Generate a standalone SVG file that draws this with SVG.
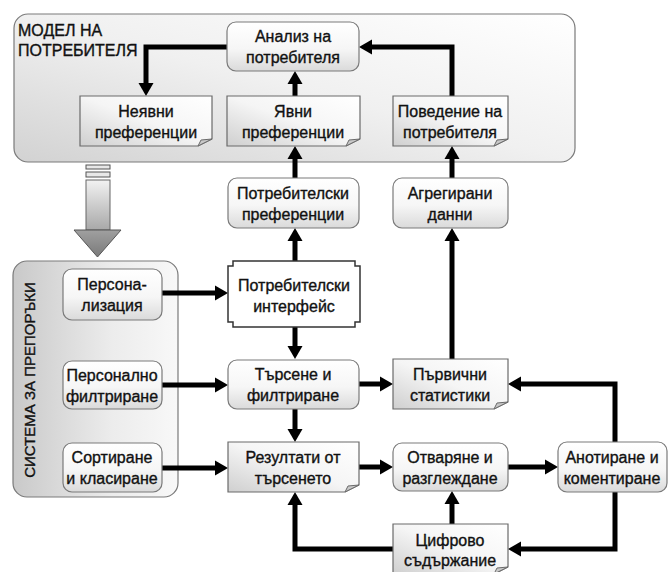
<svg xmlns="http://www.w3.org/2000/svg" width="669" height="572" viewBox="0 0 669 572">
<style>
text{font-family:"Liberation Sans",Arial,sans-serif;font-size:16px;fill:#111;stroke:#111;stroke-width:0.35;text-anchor:middle}
.title{text-anchor:start}
.rbox{fill:url(#gRound);stroke:#7a7a7a;stroke-width:1.2}
.doc{fill:url(#gDoc);stroke:#6a6a6a;stroke-width:1.2}
.fold{fill:#c8c8c8;stroke:#6a6a6a;stroke-width:1}
.cont{stroke:#7a7a7a;stroke-width:1.2}
.conn{fill:none;stroke:#000;stroke-width:5;marker-end:url(#ah)}
</style>
<defs>
<linearGradient id="gRound" x1="0" y1="0" x2="0" y2="1">
<stop offset="0" stop-color="#ffffff"/><stop offset="0.55" stop-color="#f6f6f6"/><stop offset="1" stop-color="#dadada"/>
</linearGradient>
<linearGradient id="gDoc" x1="0" y1="1" x2="1" y2="0">
<stop offset="0" stop-color="#cfcfcf"/><stop offset="0.5" stop-color="#f5f5f5"/><stop offset="1" stop-color="#ffffff"/>
</linearGradient>
<linearGradient id="gTop" x1="1" y1="0" x2="0" y2="1">
<stop offset="0" stop-color="#ffffff"/><stop offset="0.5" stop-color="#f0f0f0"/><stop offset="1" stop-color="#d2d2d2"/>
</linearGradient>
<linearGradient id="gLeft" x1="0" y1="0" x2="1" y2="0">
<stop offset="0" stop-color="#c9c9c9"/><stop offset="0.6" stop-color="#ececec"/><stop offset="1" stop-color="#f8f8f8"/>
</linearGradient>
<linearGradient id="gShaft" x1="0" y1="0" x2="0" y2="1">
<stop offset="0" stop-color="#f2f2f2"/><stop offset="1" stop-color="#a8a8a8"/>
</linearGradient>
<linearGradient id="gHead" x1="0" y1="0" x2="0" y2="1">
<stop offset="0" stop-color="#a0a0a0"/><stop offset="1" stop-color="#7a7a7a"/>
</linearGradient>
<marker id="ah" markerUnits="userSpaceOnUse" markerWidth="14" markerHeight="16" viewBox="0 -8 14 16" refX="1" refY="0" orient="auto">
<path d="M0,-7.5 L13,0 L0,7.5 Z" fill="#000"/>
</marker>
</defs>

<g id="model-container">
<rect class="cont" x="14" y="14" width="561" height="148" rx="14" fill="url(#gTop)"/>
<text class="title" x="18" y="36">МОДЕЛ НА</text>
<text class="title" x="18" y="56">ПОТРЕБИТЕЛЯ</text>
</g>

<g id="system-container">
<rect class="cont" x="13" y="261" width="165" height="236" rx="14" fill="url(#gLeft)"/>
<text transform="translate(35,380) rotate(-90)" style="font-size:15px">СИСТЕМА ЗА ПРЕПОРЪКИ</text>
</g>

<g id="big-arrow">
<rect x="86" y="165" width="24" height="4" fill="#e8e8e8" stroke="#555" stroke-width="1"/>
<rect x="86" y="172" width="24" height="5" fill="#e8e8e8" stroke="#555" stroke-width="1"/>
<rect x="86" y="180" width="24" height="50" fill="url(#gShaft)" stroke="#666" stroke-width="1"/>
<path d="M74,230 H121 L97.5,257 Z" fill="url(#gHead)" stroke="#555" stroke-width="1"/>
</g>

<g id="connectors">
<path class="conn" d="M227,47 H146 V84"/>
<path class="conn" d="M452,96 V47 H371"/>
<path class="conn" d="M295,96 V83"/>
<path class="conn" d="M295,178 V158"/>
<path class="conn" d="M452,178 V158"/>
<path class="conn" d="M452,359 V240"/>
<path class="conn" d="M295,261 V240"/>
<path class="conn" d="M295,327 V347"/>
<path class="conn" d="M295,409 V430"/>
<path class="conn" d="M359,384 H381"/>
<path class="conn" d="M359,467 H381"/>
<path class="conn" d="M508,467 H546"/>
<path class="conn" d="M615,442 V384 H520"/>
<path class="conn" d="M615,492 V549 H520"/>
<path class="conn" d="M452,524 V503"/>
<path class="conn" d="M393,549 H295 V504"/>
<path class="conn" d="M162,293 H216"/>
<path class="conn" d="M162,385 H216"/>
<path class="conn" d="M162,468 H216"/>
</g>

<g id="analiz">
<rect class="rbox" x="227" y="22" width="132" height="49" rx="9"/>
<text x="293" y="42">Анализ на</text>
<text x="293" y="63">потребителя</text>
</g>

<g id="neyavni">
<path class="doc" d="M80,96 H212 V139 L198,146 H80 Z"/>
<path class="fold" d="M198,146 L201,140 L212,139 Z"/>
<text x="146" y="117">Неявни</text>
<text x="146" y="138">преференции</text>
</g>

<g id="yavni">
<path class="doc" d="M227,96 H360 V139 L346,146 H227 Z"/>
<path class="fold" d="M346,146 L349,140 L360,139 Z"/>
<text x="293" y="117">Явни</text>
<text x="293" y="138">преференции</text>
</g>

<g id="povedenie">
<path class="doc" d="M393,96 H508 V139 L494,146 H393 Z"/>
<path class="fold" d="M494,146 L497,140 L508,139 Z"/>
<text x="450" y="117">Поведение на</text>
<text x="450" y="138">потребителя</text>
</g>

<g id="potr-pref">
<rect class="rbox" x="228" y="178" width="131" height="50" rx="9"/>
<text x="293" y="199">Потребителски</text>
<text x="293" y="220">преференции</text>
</g>

<g id="agregirani">
<rect class="rbox" x="393" y="178" width="115" height="50" rx="9"/>
<text x="450" y="199">Агрегирани</text>
<text x="450" y="220">данни</text>
</g>

<g id="interfeis">
<path d="M233,261 H355 V266 H360 V322 H355 V327 H233 V322 H228 V266 H233 Z" fill="#ffffff" stroke="#333" stroke-width="1.5"/>
<text x="294" y="291">Потребителски</text>
<text x="294" y="312">интерфейс</text>
</g>

<g id="tarsene">
<rect class="rbox" x="228" y="360" width="131" height="49" rx="9"/>
<text x="293" y="380">Търсене и</text>
<text x="293" y="401">филтриране</text>
</g>

<g id="parvichni">
<path class="doc" d="M393,359 H508 V402 L494,409 H393 Z"/>
<path class="fold" d="M494,409 L497,403 L508,402 Z"/>
<text x="450" y="380">Първични</text>
<text x="450" y="401">статистики</text>
</g>

<g id="rezultati">
<path class="doc" d="M228,442 H359 V485 L345,492 H228 Z"/>
<path class="fold" d="M345,492 L348,486 L359,485 Z"/>
<text x="293" y="463">Резултати от</text>
<text x="293" y="484">търсенето</text>
</g>

<g id="otvaryane">
<rect class="rbox" x="393" y="443" width="115" height="48" rx="9"/>
<text x="450" y="463">Отваряне и</text>
<text x="450" y="484">разглеждане</text>
</g>

<g id="anotirane">
<rect class="rbox" x="558" y="442" width="109" height="50" rx="9"/>
<text x="612" y="463">Анотиране и</text>
<text x="612" y="484">коментиране</text>
</g>

<g id="cifrovo">
<path class="doc" d="M393,524 H508 V567 L494,574 H393 Z"/>
<path class="fold" d="M494,574 L497,568 L508,567 Z"/>
<text x="450" y="546">Цифрово</text>
<text x="450" y="566">съдържание</text>
</g>

<g id="personalizaciya">
<rect class="rbox" x="63" y="269" width="99" height="51" rx="9"/>
<text x="112" y="290">Персона-</text>
<text x="112" y="311">лизация</text>
</g>

<g id="personalno">
<rect class="rbox" x="63" y="361" width="99" height="48" rx="9"/>
<text x="112" y="381">Персонално</text>
<text x="112" y="402">филтриране</text>
</g>

<g id="sortirane">
<rect class="rbox" x="63" y="443" width="99" height="49" rx="9"/>
<text x="112" y="463">Сортиране</text>
<text x="112" y="484">и класиране</text>
</g>
</svg>
